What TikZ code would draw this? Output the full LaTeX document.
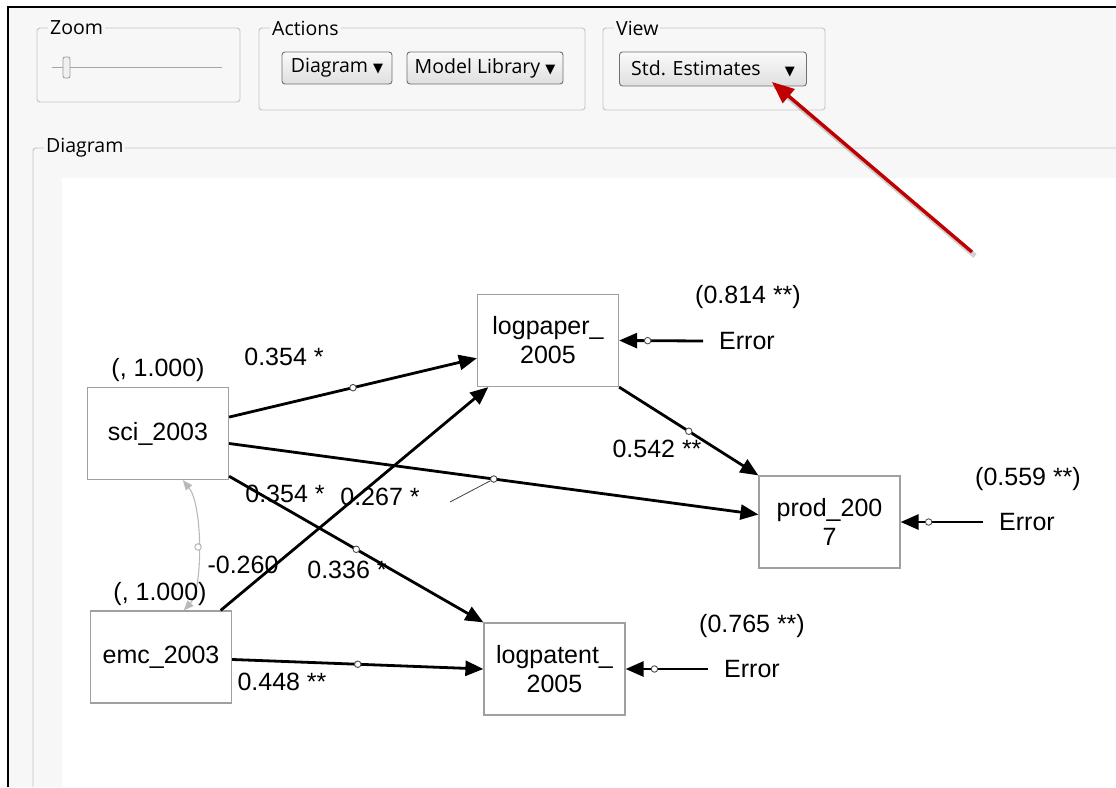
\documentclass[tikz,border=0pt]{standalone}
\usepackage{fontspec}
\setmainfont{Liberation Sans}
\newfontfamily\uifont{Open Sans}
\newfontfamily\symfont{DejaVu Sans}
\usetikzlibrary{arrows.meta,shapes.geometric,positioning}

\definecolor{panelbg}{HTML}{F7F7F7}
\definecolor{groupline}{HTML}{C4C4C4}
\definecolor{boxline}{HTML}{A0A0A0}
\definecolor{btnline}{HTML}{707070}
\definecolor{pointer}{HTML}{C00000}

\newcommand{\diagfont}{\fontsize{25}{29}\selectfont}
\newcommand{\uitext}{\uifont\fontsize{19.5}{22}\selectfont}
\newcommand{\dropmark}{{\symfont\fontsize{13}{13}\selectfont ▼}}

\begin{document}
\begin{tikzpicture}[x=1pt,y=-1pt,
  var/.style={rectangle,draw=boxline,line width=1.2pt,fill=white,minimum width=141pt,minimum height=92pt,align=center,font=\diagfont},
  est/.style={font=\diagfont,inner sep=0pt},
  errlab/.style={font=\diagfont,inner xsep=16pt,inner ysep=0pt},
  effect/.style={line width=2.8pt,-{Triangle[length=18pt,width=15pt]}},
  dot/.style={circle,draw=black!70,fill=white,line width=0.9pt,inner sep=0pt,minimum size=6.5pt},
  cov/.style={gray!55,line width=1.1pt,{Triangle[length=10pt,width=8pt]}-{Triangle[length=10pt,width=8pt]}},
  group/.style={draw=groupline,line width=0.9pt,rounded corners=3pt},
  grouplab/.style={font=\uitext,fill=panelbg,inner xsep=2pt,inner ysep=0pt,anchor=west},
  button/.style={draw=btnline,line width=0.9pt,rounded corners=3pt,top color=gray!4,bottom color=gray!25,minimum height=32pt,font=\uitext,inner xsep=4pt}
]
\useasboundingbox (0,0) rectangle (1116,787);

% Window
\fill[white] (0,0) rectangle (1116,787);
\fill[panelbg] (8,7) rectangle (1116,787);
\draw[line width=2.6pt] (8,787) -- (8,7) -- (1116,7);

% Toolbar
\draw[group] (37,28) rectangle (240,102);
\node[grouplab] (zoomlab) at (48,28) {Zoom};
\draw[gray!70,line width=0.8pt] (52,67) -- (222,67);
\draw[fill=gray!12,draw=gray!80,line width=0.8pt,rounded corners=2pt] (63,57) rectangle (70,78);

\draw[group] (259,28) rectangle (585,110);
\node[grouplab] (actlab) at (270,28) {Actions};
\node[button,minimum width=110pt] (btndiag) at (337,68) {Diagram \dropmark};
\node[button,minimum width=156pt] (btnlib) at (485,68) {Model Library \dropmark};

\draw[group] (603,28) rectangle (825,110);
\node[grouplab] (viewlab) at (614,28) {View};
\node[button,minimum width=187pt,minimum height=34pt] (btnview) at (713,69) {Std. Estimates\hspace{24pt}\dropmark};

% Diagram panel
\draw[group] (1116,148) -- (33,148) -- (33,787);
\node[grouplab] (diaglab) at (44,148) {Diagram};
\fill[white] (62,178) rectangle (1116,787);

% Pointer
\coordinate (ptrtail) at (972,252);
\coordinate (ptrtip) at (772,82);
\draw[black,opacity=0.18,line width=5pt] ([shift={(3,4)}]ptrtail) -- ([shift={(3,4)}]ptrtip);
\draw[pointer,line width=3.4pt,-{Triangle[length=22pt,width=18pt]}] (ptrtail) -- (ptrtip);

% Variables
\node[var] (logpaper) at (548,340.5) {logpaper\_\\2005};
\node[var] (sci) at (158,433.5) {sci\_2003};
\node[var] (prod) at (829.5,522) {prod\_200\\7};
\node[var] (emc) at (161,657) {emc\_2003};
\node[var] (logpatent) at (554.5,669) {logpatent\_\\2005};

% Errors
\node[errlab] (err1) at (747,341) {Error};
\node[errlab] (err2) at (1027,522) {Error};
\node[errlab] (err3) at (752,669) {Error};

% Paths
\draw[effect] (sci.13) -- node[dot] (d1) {} (logpaper.194);
\draw[effect] (emc.38) -- (logpaper.218);
\draw[effect] (sci.-8) -- node[dot] (d2) {} (prod.174);
\draw[effect] (sci.-31) -- node[dot] (d3) {} (logpatent.north west);
\draw[effect] (logpaper.south east) -- node[dot] (d4) {} (prod.north west);
\draw[effect] (emc.-2) -- node[dot] (d5) {} (logpatent.west);
\draw[effect] (err1.west) -- node[dot,pos=0.66] (e1) {} (logpaper.east);
\draw[effect] (err2.west) -- node[dot,pos=0.66] (e2) {} (prod.east);
\draw[effect] (err3.west) -- node[dot,pos=0.65] (e3) {} (logpatent.east);
\draw[cov] (emc.64) .. controls (203,590) and (203,505) .. node[dot,draw=gray!60] (dcov) {} (sci.-62);
\coordinate (lead) at (450,502);
\draw[black!75,line width=0.8pt] (lead) -- (d2);

% Estimates
\node[est] (vsci) at (158,370) {(, 1.000)};
\node[est] (vemc) at (160,594) {(, 1.000)};
\node[est] (v1) at (748,297) {(0.814 **)};
\node[est] (v2) at (1028,479) {(0.559 **)};
\node[est] (v3) at (752,626) {(0.765 **)};
\node[est] (b1) at (284,357) {0.354 *};
\node[est] (b2) at (285,494) {0.354 *};
\node[est] (b3) at (380,497) {0.267 *};
\node[est] (b4) at (243,565) {-0.260};
\node[est] (b5) at (347,570) {0.336 *};
\node[est] (b6) at (657,449) {0.542 **};
\node[est] (b7) at (282,682) {0.448 **};
\end{tikzpicture}
\end{document}
